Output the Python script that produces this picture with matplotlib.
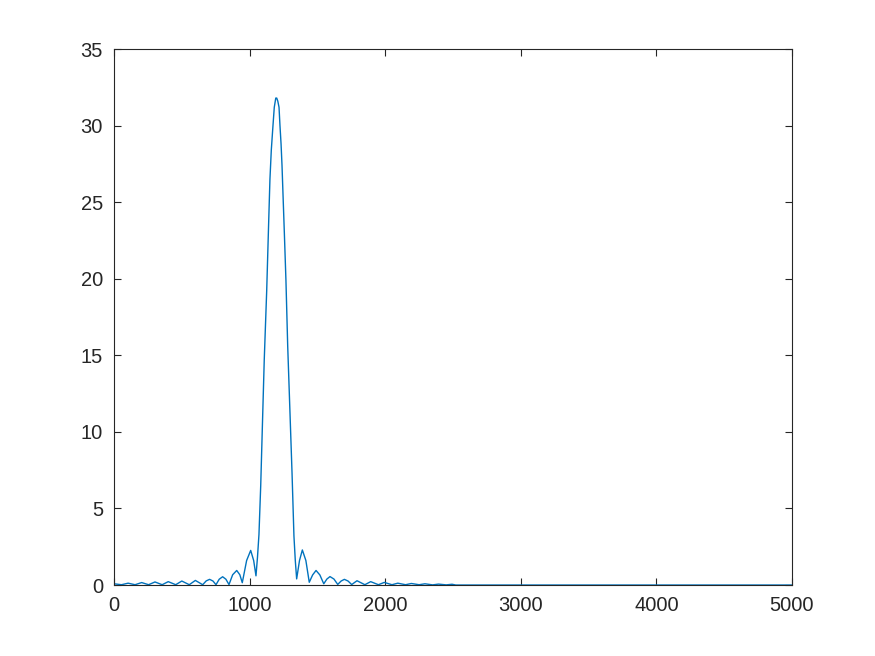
import matplotlib
matplotlib.use("Agg")
import matplotlib.pyplot as plt
import numpy as np

# magnitude curve (x = sample index, y = magnitude)
freq = [0, 55, 104, 155, 204, 255, 302, 355, 400, 455, 500, 555, 600,
        654, 680, 705, 730, 752, 776, 801, 825, 848, 875, 905, 928,
        946, 978, 1008, 1030, 1047,
        1058, 1069, 1082, 1094, 1108, 1126, 1140, 1150, 1160, 1170, 1182,
        1193, 1200, 1208, 1217, 1224, 1232, 1239, 1246, 1257, 1268, 1281,
        1298, 1313, 1327, 1337, 1347,
        1368, 1389, 1415, 1440, 1465, 1490, 1518, 1547, 1570, 1593, 1622,
        1650, 1675, 1699, 1726, 1753, 1792, 1850, 1893, 1950, 1993, 2050,
        2093, 2150, 2193, 2250, 2293, 2350, 2393, 2450, 2493, 2520, 5000]
magnitude = [0.08, 0.02, 0.12, 0.02, 0.16, 0.02, 0.20, 0.02, 0.22, 0.02, 0.26, 0.02, 0.30,
             0.02, 0.27, 0.37, 0.26, 0.02, 0.38, 0.54, 0.38, 0.03, 0.67, 0.95, 0.67,
             0.15, 1.6, 2.26, 1.6, 0.6,
             1.8, 3.3, 6.5, 10.3, 14.7, 19.2, 23.5, 26.5, 28.4, 29.7, 31.2,
             31.8, 31.8, 31.6, 31.2, 30.0, 28.8, 27.4, 25.6, 22.8, 19.9, 15.6,
             11.2, 7.3, 3.2, 1.6, 0.4,
             1.6, 2.29, 1.6, 0.18, 0.66, 0.95, 0.66, 0.08, 0.39, 0.55, 0.39,
             0.04, 0.26, 0.37, 0.26, 0.03, 0.28, 0.02, 0.22, 0.02, 0.17, 0.02,
             0.12, 0.02, 0.10, 0.02, 0.08, 0.01, 0.06, 0.01, 0.05, 0.0, 0.0]

xticks = [0, 1000, 2000, 3000, 4000, 5000]
yticks = [0, 5, 10, 15, 20, 25, 30, 35]

plt.rcParams['font.family'] = ['Liberation Sans', 'DejaVu Sans']

fig = plt.figure(figsize=(8.75, 6.56), dpi=100)
ax = fig.add_axes([0.1303, 0.1082, 0.7748, 0.817])

ax.plot(freq, magnitude, color="#0072BD", linewidth=1.0)

ax.set_xlim(0, 5000)
ax.set_ylim(0, 35)
ax.set_xticks(xticks)
ax.set_yticks(yticks)

for s in ax.spines.values():
    s.set_linewidth(0.8)
    s.set_color("#262626")
ax.tick_params(direction="in", top=True, right=True, length=5, width=0.8,
               color="#262626", labelcolor="#262626", labelsize=14.5, pad=8)

fig.savefig("out.png", dpi=100)
